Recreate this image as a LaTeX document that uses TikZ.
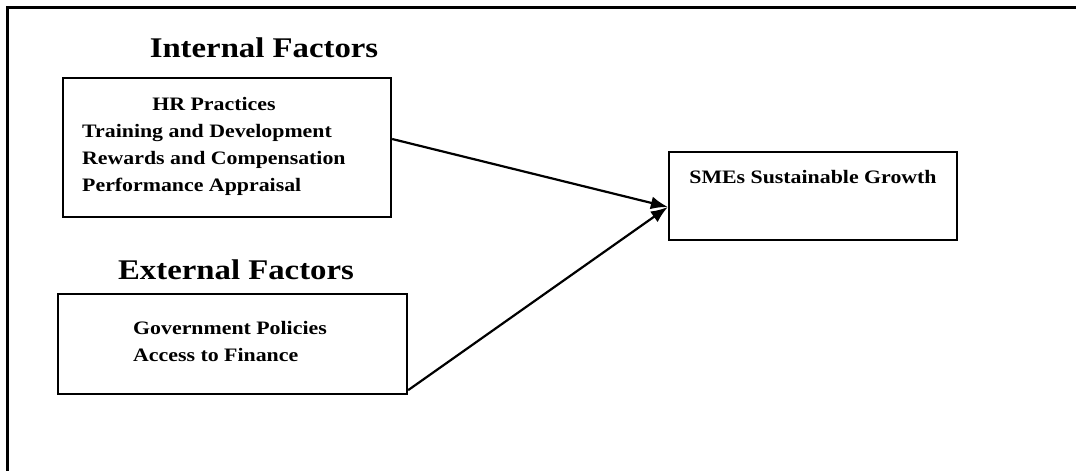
\documentclass[tikz,border=0pt]{standalone}
\usepackage{fontspec}
\setmainfont{Liberation Serif}[FakeStretch=1.15]
\usetikzlibrary{arrows.meta}
\begin{document}
\begin{tikzpicture}[x=1pt,y=-1pt,
  frame/.style={line width=3pt},
  factorbox/.style={draw, line width=2.3pt, rectangle, inner sep=0pt},
  heading/.style={anchor=base, inner sep=0pt, font=\bfseries\fontsize{28.5}{32}\selectfont},
  itemtext/.style={inner sep=0pt, font=\bfseries\fontsize{19}{27}\selectfont},
  link/.style={line width=2.2pt, -{Latex[length=17pt,width=13pt]}}]
\useasboundingbox (0,0) rectangle (1076,471);

% open frame: top and left edges only
\coordinate (frameTR) at (1076,7);
\coordinate (frameTL) at (7,7);
\coordinate (frameBL) at (7,471);
\draw[frame] (frameTR) -- (frameTL) -- (frameBL);

% headings
\node[heading] (inttitle) at (264,57) {Internal Factors};
\node[heading] (exttitle) at (236,279) {External Factors};

% boxes
\node[factorbox, minimum width=328pt, minimum height=139pt] (internal) at (227,147.5) {};
\node[factorbox, minimum width=349pt, minimum height=100pt] (external) at (232.5,344) {};
\node[factorbox, minimum width=288pt, minimum height=88pt] (sme) at (813,196) {};

% box contents
\node[itemtext, anchor=base west] (intlist) at (82,110) {%
  \begin{tabular}[t]{@{}l@{}}
  \multicolumn{1}{@{}c@{}}{HR Practices}\\
  Training and Development\\
  Rewards and Compensation\\
  Performance Appraisal
  \end{tabular}};
\node[itemtext, anchor=base west] (extlist) at (133,334) {%
  \begin{tabular}[t]{@{}l@{}}
  Government Policies\\
  Access to Finance
  \end{tabular}};
\node[itemtext, anchor=base] (smetext) at (813,183) {SMEs Sustainable Growth};

% connectors
\draw[link] ([yshift=8.5pt]internal.east) -- ([yshift=-11pt]sme.west);
\draw[link] ([yshift=5pt]external.south east) -- ([yshift=-11pt]sme.west);
\end{tikzpicture}
\end{document}
